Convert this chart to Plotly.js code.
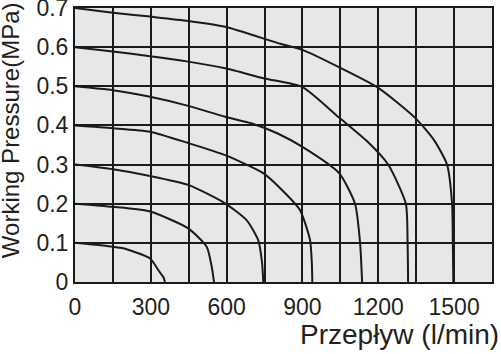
<!DOCTYPE html>
<html><head><meta charset="utf-8">
<script src="https://cdn.plot.ly/plotly-3.0.1.min.js"></script>
<style>html,body{margin:0;padding:0;background:#fff}#chart{width:501px;height:354px}</style>
</head><body><div id="chart"></div>
<script>
// Flow (l/min) and pressure (MPa) for each set pressure curve
const flow01 = [0, 150, 191, 297, 330, 350, 356];
const pres01 = [0.1, 0.09, 0.086, 0.06, 0.03, 0.012, 0];
const flow02 = [0, 150, 297, 448, 521, 541, 550];
const pres02 = [0.2, 0.192, 0.18, 0.137, 0.09, 0.039, 0];
const flow03 = [0, 150, 297, 448, 594, 679, 725, 740, 745];
const pres03 = [0.3, 0.288, 0.271, 0.248, 0.201, 0.158, 0.107, 0.05, 0];
const flow04 = [0, 150, 297, 448, 594, 745, 811, 890, 930, 937, 939];
const pres04 = [0.4, 0.393, 0.384, 0.355, 0.324, 0.278, 0.24, 0.184, 0.107, 0.05, 0];
const flow05 = [0, 150, 297, 448, 594, 700, 800, 900, 1045, 1108, 1128, 1136];
const pres05 = [0.5, 0.49, 0.473, 0.45, 0.422, 0.405, 0.38, 0.345, 0.278, 0.2, 0.1, 0];
const flow06 = [0, 150, 297, 448, 594, 750, 900, 1045, 1155, 1239, 1309, 1316, 1318];
const pres06 = [0.6, 0.589, 0.577, 0.563, 0.546, 0.52, 0.498, 0.42, 0.36, 0.3, 0.2, 0.1, 0];
const flow07 = [0, 150, 297, 448, 594, 815, 900, 1050, 1200, 1345, 1420, 1472, 1492, 1495, 1497];
const pres07 = [0.7, 0.688, 0.678, 0.667, 0.652, 0.608, 0.593, 0.547, 0.496, 0.42, 0.363, 0.3, 0.2, 0.1, 0];

const xTickVals = [0, 300, 600, 900, 1200, 1500];
const xTickText = ["0", "300", "600", "900", "1200", "1500"];
const yTickVals = [0, 0.1, 0.2, 0.3, 0.4, 0.5, 0.6, 0.7];
const yTickText = ["0", "0.1", "0.2", "0.3", "0.4", "0.5", "0.6", "0.7"];
const xTitle = "Przepływ (l/min)";
const yTitle = "Working Pressure(MPa)";

const series = [[flow01,pres01],[flow02,pres02],[flow03,pres03],[flow04,pres04],[flow05,pres05],[flow06,pres06],[flow07,pres07]];
const traces = series.map(s => ({
  x: s[0], y: s[1], type: 'scatter', mode: 'lines',
  line: {color: '#1a1a1a', width: 2, shape: 'spline', smoothing: 0.6},
  hoverinfo: 'skip', showlegend: false, cliponaxis: true
}));

const fam = 'Liberation Sans, Arial, sans-serif';
const layout = {
  width: 501, height: 354,
  margin: {l: 75, r: 9, t: 8, b: 72},
  paper_bgcolor: '#ffffff', plot_bgcolor: '#e6e7e8',
  showlegend: false,
  font: {family: fam, color: '#231f20', size: 23},
  xaxis: {
    range: [0, 1650], tickvals: xTickVals, ticktext: xTickText,
    showgrid: true, gridcolor: '#1a1a1a', gridwidth: 2,
    minor: {dtick: 150, tick0: 0, showgrid: true, gridcolor: '#1a1a1a', gridwidth: 2, ticks: ''},
    zeroline: false, showline: true, mirror: true, linecolor: '#1a1a1a', linewidth: 2,
    ticks: '', ticklabeloverflow: 'allow', automargin: false, ticklabelstandoff: 3,
    tickfont: {family: fam, size: 23, color: '#231f20'}, fixedrange: true
  },
  yaxis: {
    range: [0, 0.7], tickvals: yTickVals, ticktext: yTickText,
    showgrid: true, gridcolor: '#1a1a1a', gridwidth: 2,
    zeroline: false, showline: true, mirror: true, linecolor: '#1a1a1a', linewidth: 2,
    ticks: '', ticklabeloverflow: 'allow', automargin: false,
    tickfont: {family: fam, size: 23, color: '#231f20'}, fixedrange: true
  },
  annotations: [
    {text: xTitle, xref: 'paper', yref: 'paper', x: 1.022, y: -0.19, xanchor: 'right', yanchor: 'middle',
     showarrow: false, font: {family: fam, size: 28, color: '#231f20'}},
    {text: yTitle, xref: 'paper', yref: 'paper', x: -0.153, y: 0.555, xanchor: 'center', yanchor: 'middle',
     textangle: -90, showarrow: false, font: {family: fam, size: 24, color: '#231f20'}}
  ]
};
Plotly.newPlot('chart', traces, layout, {displayModeBar: false, staticPlot: true});
</script></body></html>
